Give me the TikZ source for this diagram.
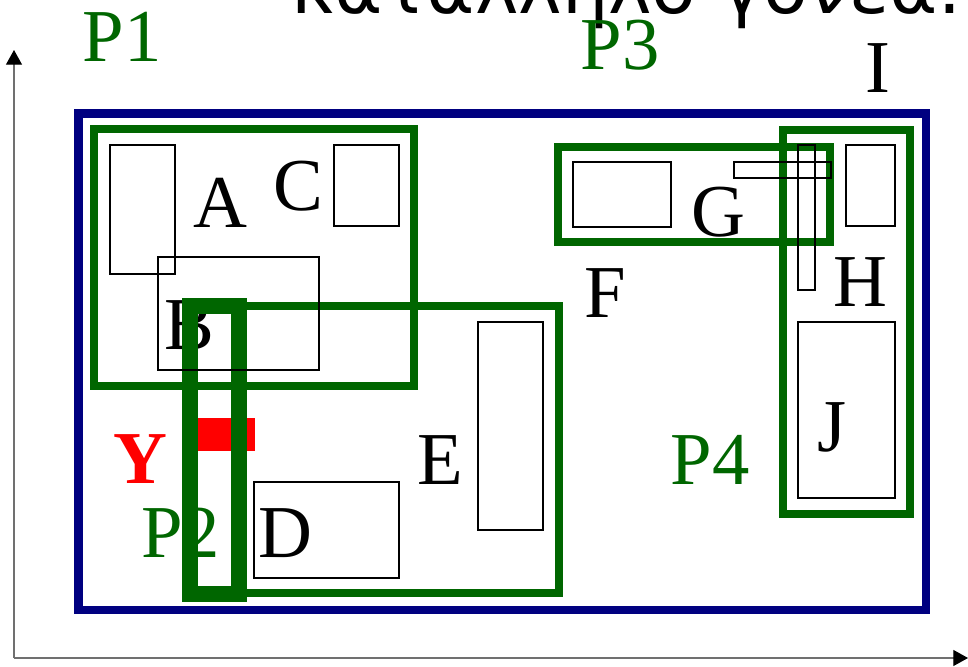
\documentclass[tikz,border=0pt]{standalone}
\usepackage{fontspec}
\setmainfont{Liberation Serif}
\newfontfamily\greekfont{DejaVu Sans}
\usetikzlibrary{arrows.meta}
\definecolor{pgreen}{HTML}{006600}
\definecolor{pblue}{HTML}{000080}
\definecolor{pred}{HTML}{FF0000}
\definecolor{axisgray}{HTML}{707070}
\tikzset{
  lbl/.style={inner sep=0pt, font=\fontsize{56}{60}\selectfont},
  glbl/.style={lbl, text=pgreen},
  objbox/.style={draw=black, line width=1.25pt},
  mbr/.style={draw=pgreen, line width=6pt},
  thickmbr/.style={draw=pgreen, line width=12pt},
  rootbox/.style={draw=pblue, line width=6.5pt},
  axisline/.style={draw=axisgray, line width=0.8pt, -{Triangle[length=11pt,width=12pt,color=black]}}
}
\begin{document}
\begin{tikzpicture}[x=0.75pt,y=-0.75pt]
\useasboundingbox (0,0) rectangle (968,667);
% title (cut off at top)
\node[anchor=base west, inner sep=0pt, font=\greekfont\fontsize{55}{60}\selectfont] (title) at (291,13.5) {κατάλληλο γονέα:};
% axes
\coordinate (origin) at (14,658);
\coordinate (ytop) at (14,50);
\coordinate (xend) at (968,658);
\draw[axisline] (origin) -- (ytop);
\draw[axisline] (origin) -- (xend);
% root rectangle
\draw[rootbox] (78.5,113.5) rectangle (926,610);
% labels
\node[glbl] (p1) at (122,36.7) {P1};
\node[glbl] (p3) at (620,45) {P3};
\node[lbl] (li) at (878,68.5) {I};
\node[lbl] (la) at (220,203) {A};
\node[lbl] (lc) at (298,186.5) {C};
\node[lbl] (lb) at (189,325) {B};
\node[lbl, text=pred, font=\fontsize{56}{60}\selectfont\bfseries] (ly) at (140,459) {Y};
\node[glbl] (p2) at (180.5,533) {P2};
\node[lbl] (ld) at (285,533) {D};
\node[lbl] (le) at (440,460) {E};
\node[lbl] (lf) at (605.5,293) {F};
\node[lbl] (lg) at (718.7,212.5) {G};
\node[lbl] (lh) at (860.5,282.5) {H};
\node[lbl] (lj) at (832,427) {J};
\node[glbl] (p4) at (710,460) {P4};
% red object Y
\fill[pred] (192,417.5) rectangle (255,450.5);
% green MBRs
\draw[mbr] (94,129.5) rectangle (414,386);
\draw[mbr] (238.7,306) rectangle (559,593);
\draw[mbr] (558.3,146.5) rectangle (830,241.7);
\draw[mbr] (783,130) rectangle (910,514);
\draw[thickmbr] (190.3,305.8) rectangle (238.7,594);
% objects
\draw[objbox] (110,145.3) rectangle (174.7,274);
\draw[objbox] (334,145.3) rectangle (399,226);
\draw[objbox] (157.7,257.3) rectangle (318.7,370);
\draw[objbox] (254,481.7) rectangle (399,578.3);
\draw[objbox] (477.7,321.7) rectangle (543.3,530);
\draw[objbox] (573.3,161.7) rectangle (670.7,226.7);
\draw[objbox] (734,161.7) rectangle (831,177.7);
\draw[objbox] (798,145) rectangle (814.7,290);
\draw[objbox] (846,145.3) rectangle (895,226);
\draw[objbox] (797.7,321.7) rectangle (895.3,498.3);
\end{tikzpicture}
\end{document}
